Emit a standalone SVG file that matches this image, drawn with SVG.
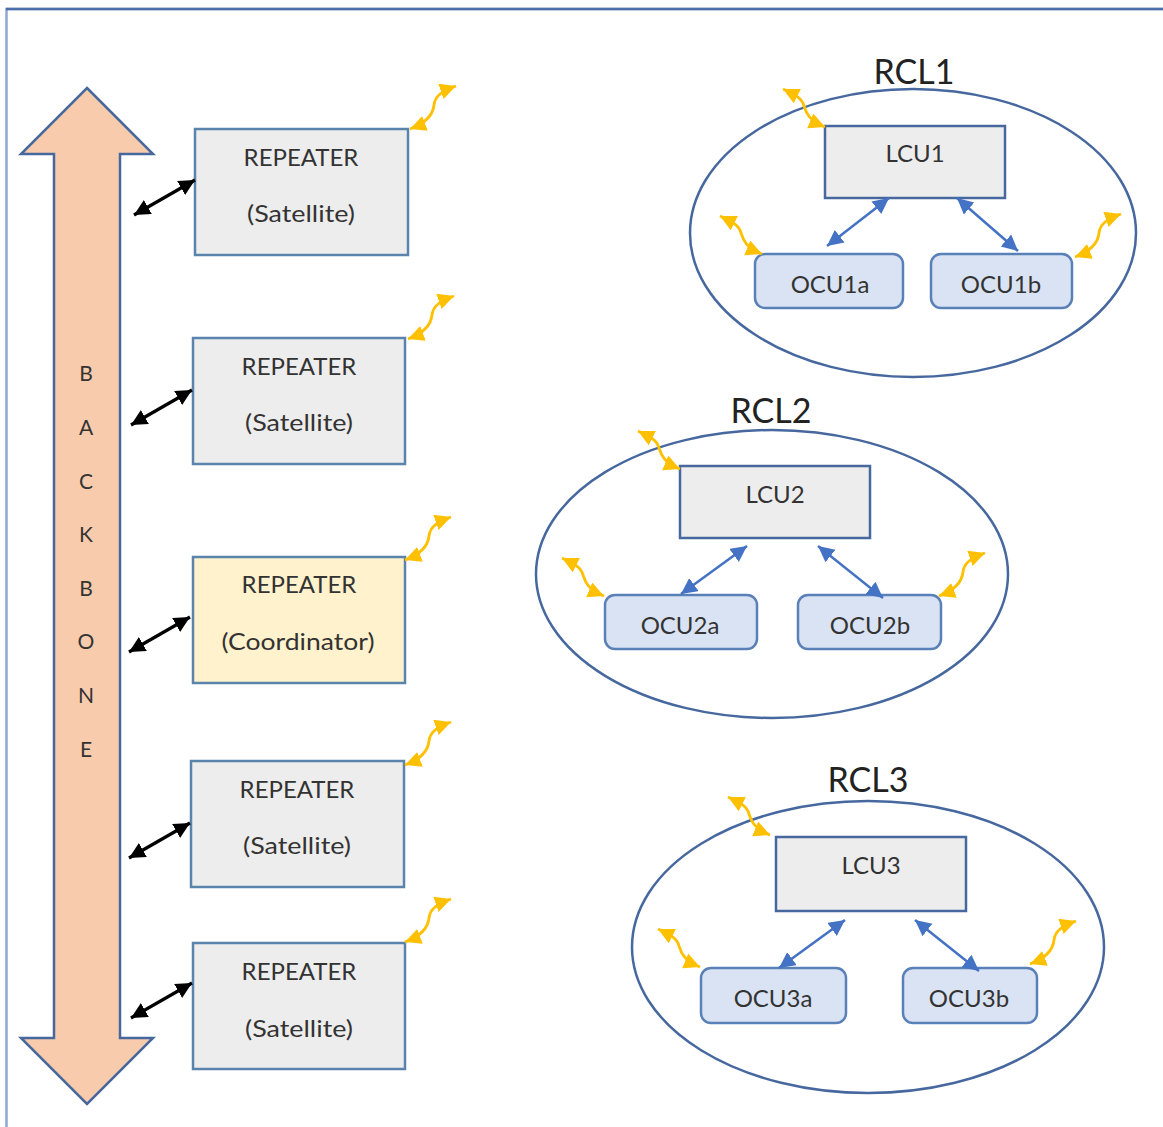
<svg xmlns="http://www.w3.org/2000/svg" width="1163" height="1127" viewBox="0 0 1163 1127">
<style>
text{font-family:"Lato","Open Sans","Liberation Sans",sans-serif;fill:#333;text-anchor:middle;font-size:24px}
.box{fill:#ededed;stroke:#5b84ad;stroke-width:2.5}
.lcu{fill:#ededed;stroke:#47689f;stroke-width:2.5}
.coord{fill:#fff2cc;stroke:#5b84ad;stroke-width:2.5}
.ocu{fill:#dae3f3;stroke:#5a80b8;stroke-width:2.5}
.ell{fill:none;stroke:#47689f;stroke-width:2.5}
.title{fill:#222}
.v{font-size:21px}
.k{fill:none;stroke:#000;stroke-width:3.2;marker-start:url(#hk);marker-end:url(#hk)}
.b{fill:none;stroke:#4472c4;stroke-width:2.5;marker-start:url(#hb);marker-end:url(#hb)}
.y{fill:none;stroke:#ffc000;stroke-width:2.8;marker-start:url(#hy);marker-end:url(#hy)}
</style>
<defs>
<marker id="hk" markerUnits="userSpaceOnUse" markerWidth="20" markerHeight="18" refX="16" refY="8" orient="auto-start-reverse"><path d="M0,0L16,8L0,16z" fill="#000"/></marker>
<marker id="hb" markerUnits="userSpaceOnUse" markerWidth="20" markerHeight="18" refX="16" refY="8" orient="auto-start-reverse"><path d="M0,0L16,8L0,16z" fill="#4472c4"/></marker>
<marker id="hy" markerUnits="userSpaceOnUse" markerWidth="20" markerHeight="18" refX="16" refY="8" orient="auto-start-reverse"><path d="M0,0L16,8L0,16z" fill="#ffc000"/></marker>
</defs>
<rect width="1163" height="1127" fill="#fff"/>
<g id="frame"><path d="M6.500,1127V9H1163" fill="none" stroke="#8fa8d0" stroke-width="2.500"/><path d="M6,9H1163" fill="none" stroke="#4a6ea9" stroke-width="2.500"/></g>
<g id="backbone"><polygon points="87,88 153,154 120,154 120,1038 153,1038 87,1104 21,1038 54,1038 54,154 21,154" fill="#f8cbad" stroke="#47689f" stroke-width="2.500"/>
<text class="v" x="86" y="381">B</text><text class="v" x="86" y="435">A</text><text class="v" x="86" y="489">C</text><text class="v" x="86" y="542">K</text><text class="v" x="86" y="596">B</text><text class="v" x="86" y="649">O</text><text class="v" x="86" y="703">N</text><text class="v" x="86" y="757">E</text></g>
<g id="rep1"><rect class="box" x="195" y="129" width="213" height="126"/><text x="301" y="166">REPEATER</text><text x="301" y="222" textLength="108" lengthAdjust="spacingAndGlyphs">(Satellite)</text></g>
<g id="rep2"><rect class="box" x="193" y="338" width="212" height="126"/><text x="299" y="375">REPEATER</text><text x="299" y="431" textLength="108" lengthAdjust="spacingAndGlyphs">(Satellite)</text></g>
<g id="rep3"><rect class="coord" x="193" y="557" width="212" height="126"/><text x="299" y="593">REPEATER</text><text x="298" y="650" textLength="153" lengthAdjust="spacingAndGlyphs">(Coordinator)</text></g>
<g id="rep4"><rect class="box" x="191" y="761" width="213" height="126"/><text x="297" y="798">REPEATER</text><text x="297" y="854" textLength="108" lengthAdjust="spacingAndGlyphs">(Satellite)</text></g>
<g id="rep5"><rect class="box" x="193" y="943" width="212" height="126"/><text x="299" y="980">REPEATER</text><text x="299" y="1037" textLength="108" lengthAdjust="spacingAndGlyphs">(Satellite)</text></g>
<g id="rcl1"><ellipse class="ell" cx="913" cy="233" rx="223" ry="144"/><text class="title" style="font-size:34px" x="914" y="84">RCL1</text></g>
<g id="lcu1"><rect class="lcu" x="825" y="126" width="180" height="72"/><text x="915" y="162">LCU1</text></g>
<g id="ocu1a"><rect class="ocu" x="755" y="254" width="148" height="54" rx="10"/><text x="830" y="293">OCU1a</text></g>
<g id="ocu1b"><rect class="ocu" x="931" y="254" width="141" height="54" rx="10"/><text x="1001" y="293">OCU1b</text></g>
<g id="rcl2"><ellipse class="ell" cx="772" cy="574" rx="236" ry="144"/><text class="title" style="font-size:34px" x="771" y="423">RCL2</text></g>
<g id="lcu2"><rect class="lcu" x="680" y="466" width="190" height="72"/><text x="775" y="503">LCU2</text></g>
<g id="ocu2a"><rect class="ocu" x="605" y="595" width="152" height="54" rx="10"/><text x="680" y="634">OCU2a</text></g>
<g id="ocu2b"><rect class="ocu" x="798" y="595" width="143" height="54" rx="10"/><text x="870" y="634">OCU2b</text></g>
<g id="rcl3"><ellipse class="ell" cx="868" cy="947" rx="236" ry="146"/><text class="title" style="font-size:34px" x="868" y="792">RCL3</text></g>
<g id="lcu3"><rect class="lcu" x="776" y="837" width="190" height="74"/><text x="871" y="874">LCU3</text></g>
<g id="ocu3a"><rect class="ocu" x="701" y="968" width="145" height="55" rx="10"/><text x="773" y="1007">OCU3a</text></g>
<g id="ocu3b"><rect class="ocu" x="903" y="968" width="134" height="55" rx="10"/><text x="969" y="1007">OCU3b</text></g>
<g id="connectors">
<path class="k" d="M134,215L195,180"/><path class="k" d="M131,425L192,390"/><path class="k" d="M129,652L190,617"/><path class="k" d="M129,858L190,823"/><path class="k" d="M131,1018L192,983"/>
<path class="b" d="M827,246L889,198"/><path class="b" d="M957,198L1018,251"/><path class="b" d="M681,594L747,546"/><path class="b" d="M818,546L883,598"/><path class="b" d="M779,968L845,920"/><path class="b" d="M915,920L979,971"/>
<path class="y" transform="translate(410,129)" d="M0,0C16,-6 23,-14 24,-24C25,-33 32,-38 46,-43"/>
<path class="y" transform="translate(408,339)" d="M0,0C16,-6 23,-14 24,-24C25,-33 32,-38 46,-43"/>
<path class="y" transform="translate(405,560)" d="M0,0C16,-6 23,-14 24,-24C25,-33 32,-38 46,-43"/>
<path class="y" transform="translate(405,765)" d="M0,0C16,-6 23,-14 24,-24C25,-33 32,-38 46,-43"/>
<path class="y" transform="translate(405,942)" d="M0,0C16,-6 23,-14 24,-24C25,-33 32,-38 46,-43"/>
<path class="y" transform="translate(1075,257)" d="M0,0C16,-6 23,-14 24,-24C25,-33 32,-38 46,-43"/>
<path class="y" transform="translate(939,596)" d="M0,0C16,-6 23,-14 24,-24C25,-33 32,-38 46,-43"/>
<path class="y" transform="translate(1030,964)" d="M0,0C16,-6 23,-14 24,-24C25,-33 32,-38 46,-43"/>
<path class="y" transform="translate(825,127)" d="M0,0C-17,-7 -19,-15 -21,-21C-23,-29 -30,-32 -42,-38"/>
<path class="y" transform="translate(762,254)" d="M0,0C-17,-7 -19,-15 -21,-21C-23,-29 -30,-32 -42,-38"/>
<path class="y" transform="translate(680,469)" d="M0,0C-17,-7 -19,-15 -21,-21C-23,-29 -30,-32 -42,-38"/>
<path class="y" transform="translate(604,596)" d="M0,0C-17,-7 -19,-15 -21,-21C-23,-29 -30,-32 -42,-38"/>
<path class="y" transform="translate(770,835)" d="M0,0C-17,-7 -19,-15 -21,-21C-23,-29 -30,-32 -42,-38"/>
<path class="y" transform="translate(700,967)" d="M0,0C-17,-7 -19,-15 -21,-21C-23,-29 -30,-32 -42,-38"/>
</g>
</svg>
